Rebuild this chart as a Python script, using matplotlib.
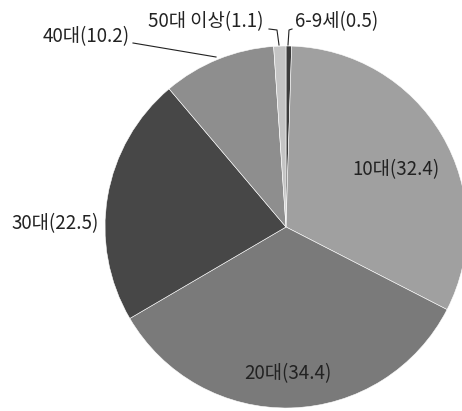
import matplotlib
matplotlib.use("Agg")
import matplotlib.pyplot as plt

plt.rcParams['font.family'] = ['Noto Sans CJK KR', 'DejaVu Sans']

# data (percent), clockwise from 12 o'clock
labels = ["6-9세", "10대", "20대", "30대", "40대", "50대 이상"]
values = [0.5, 32.4, 34.4, 22.5, 10.2, 1.1]
colors = ["#3c3c3c", "#a0a0a0", "#7a7a7a", "#474747", "#8e8e8e", "#c4c4c4"]

W, H = 462, 411
fig = plt.figure(figsize=(W / 100, H / 100), dpi=100)
ax = fig.add_axes([0, 0, 1, 1])

cx, cy, r = 286, H - 227, 181
ax.pie(values, colors=colors, startangle=90, counterclock=False,
       center=(cx, cy), radius=r, frame=True,
       wedgeprops=dict(edgecolor="white", linewidth=0.4))

ax.set_xlim(0, W)
ax.set_ylim(0, H)
ax.set_aspect("equal")
ax.axis("off")

fs = 13.5
txt = [f"{l}({v})" for l, v in zip(labels, values)]

# label positions in pixel coords (x, y from top)
pos = {
    0: (337, 22),
    1: (396, 170),
    2: (288, 374),
    3: (55, 224),
    4: (86, 37),
    5: (206, 22),
}
for i, (x, y) in pos.items():
    ax.text(x, H - y, txt[i], ha="center", va="center", fontsize=fs, color="#222222")

# leader lines
ax.plot([133, 216], [H - 43, H - 57], color="#222222", lw=0.8)
ax.plot([269, 277, 279], [H - 29, H - 30, H - 45], color="#222222", lw=0.8)
ax.plot([292, 289, 288], [H - 29, H - 30, H - 45], color="#222222", lw=0.8)

fig.savefig("out.png", dpi=100)
